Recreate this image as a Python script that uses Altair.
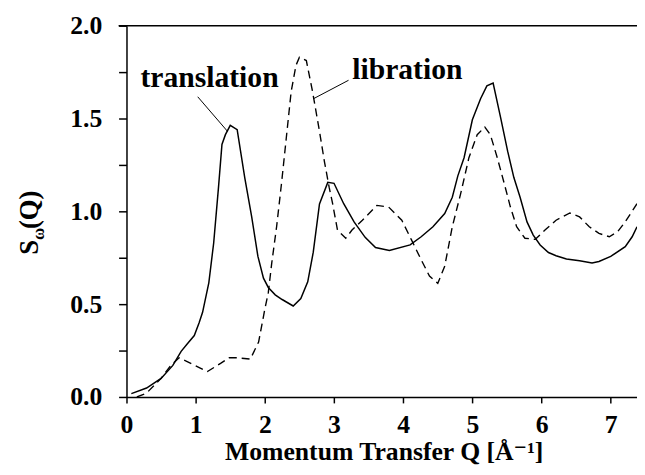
import altair as alt
import pandas as pd

# translation (solid)
trans_q = [0.07, 0.29, 0.50, 0.67, 0.79, 0.88, 0.98, 1.05, 1.10, 1.19, 1.26, 1.33, 1.38, 1.43,
           1.50, 1.60, 1.71, 1.81, 1.90, 1.98, 2.05, 2.15, 2.25, 2.41, 2.52, 2.62, 2.70, 2.79,
           2.91, 3.00, 3.14, 3.29, 3.45, 3.60, 3.80, 4.10, 4.26, 4.43, 4.60, 4.71, 4.79, 4.88,
           5.00, 5.12, 5.21, 5.30, 5.41, 5.51, 5.60, 5.69, 5.79, 5.88, 5.98, 6.10, 6.21, 6.36,
           6.55, 6.73, 6.83, 7.00, 7.21, 7.31, 7.38]
trans_s = [0.018, 0.048, 0.10, 0.17, 0.246, 0.287, 0.331, 0.40, 0.456, 0.615, 0.828, 1.129, 1.36, 1.413,
           1.463, 1.44, 1.18, 0.97, 0.757, 0.64, 0.59, 0.55, 0.525, 0.49, 0.53, 0.62, 0.78, 1.04,
           1.156, 1.151, 1.041, 0.943, 0.86, 0.805, 0.789, 0.819, 0.863, 0.917, 0.988, 1.076, 1.191, 1.289,
           1.493, 1.608, 1.676, 1.691, 1.502, 1.324, 1.182, 1.076, 0.943, 0.872, 0.819, 0.778, 0.761, 0.743,
           0.734, 0.722, 0.730, 0.757, 0.81, 0.863, 0.917]

# libration (dashed)
lib_q = [0.15, 0.29, 0.50, 0.64, 0.76, 0.98, 1.17, 1.36, 1.48, 1.60, 1.79, 1.91, 2.00, 2.05, 2.10,
         2.17, 2.24, 2.31, 2.38, 2.45, 2.50, 2.60, 2.69, 2.79, 2.86, 2.93, 2.98, 3.05, 3.17, 3.26,
         3.41, 3.62, 3.79, 3.98, 4.12, 4.26, 4.38, 4.50, 4.60, 4.71, 4.83, 4.95, 5.07, 5.18, 5.26,
         5.36, 5.45, 5.55, 5.64, 5.76, 5.91, 6.05, 6.21, 6.41, 6.55, 6.69, 6.83, 6.98, 7.10, 7.21, 7.38]
lib_s = [0.0, 0.021, 0.10, 0.17, 0.211, 0.172, 0.137, 0.181, 0.211, 0.211, 0.204, 0.296, 0.473, 0.562, 0.722,
         0.917, 1.147, 1.395, 1.644, 1.786, 1.83, 1.812, 1.644, 1.431, 1.271, 1.129, 1.041, 0.899, 0.855, 0.899,
         0.952, 1.032, 1.023, 0.952, 0.846, 0.739, 0.651, 0.612, 0.704, 0.917, 1.094, 1.289, 1.413, 1.454, 1.413,
         1.289, 1.165, 1.023, 0.917, 0.855, 0.849, 0.899, 0.952, 0.991, 0.970, 0.917, 0.881, 0.863, 0.890, 0.943, 1.041]

label_text = ["translation", "libration"]
label_q = [1.20, 4.06]
label_s = [1.67, 1.711]

ptr_q = [1.03, 3.21]
ptr_s = [1.617, 1.706]
ptr_q2 = [1.46, 2.71]
ptr_s2 = [1.431, 1.608]

x_ticks = [i * 0.5 for i in range(15)]
y_ticks = [i * 0.25 for i in range(9)]

W, H = 517, 376
FONT = "'Liberation Serif', 'Times New Roman', Times, 'DejaVu Serif', serif"

trans_df = pd.DataFrame({"q": trans_q, "s": trans_s})
lib_df = pd.DataFrame({"q": lib_q, "s": lib_s})
lab_df = pd.DataFrame({"t": label_text, "q": label_q, "s": label_s})
ptr_df = pd.DataFrame({"q": ptr_q, "s": ptr_s, "q2": ptr_q2, "s2": ptr_s2})
one = pd.DataFrame({"a": [0]})

xs = alt.Scale(domain=[0, 7.38], nice=False, zero=False)
ys = alt.Scale(domain=[0, 2.0], nice=False)

x_axis = alt.Axis(values=x_ticks, labelExpr="datum.value % 1 == 0 ? datum.value : ''",
                  title=None, tickSize=6, labelPadding=9, grid=False, labelFlush=False,
                  labelOverlap=False)
y_axis = alt.Axis(values=y_ticks, labelExpr="datum.value % 0.5 == 0 ? format(datum.value, '.1f') : ''",
                  title=None, tickSize=8, labelPadding=17, grid=False, labelFlush=False,
                  labelOverlap=False)

trans = alt.Chart(trans_df).mark_line(color="black", strokeWidth=1.5, clip=True).encode(
    x=alt.X("q:Q", scale=xs, axis=x_axis),
    y=alt.Y("s:Q", scale=ys, axis=y_axis),
)
lib = alt.Chart(lib_df).mark_line(color="black", strokeWidth=1.4, strokeDash=[8, 5], clip=True).encode(
    x=alt.X("q:Q", scale=xs),
    y=alt.Y("s:Q", scale=ys),
)
labels = alt.Chart(lab_df).mark_text(font=FONT, fontWeight="bold", fontSize=30, align="center",
                                     baseline="alphabetic", color="black").encode(
    x=alt.X("q:Q", scale=xs), y=alt.Y("s:Q", scale=ys), text="t:N")
ptrs = alt.Chart(ptr_df).mark_rule(color="black", strokeWidth=1).encode(
    x=alt.X("q:Q", scale=xs), y=alt.Y("s:Q", scale=ys), x2="q2:Q", y2="s2:Q")

top_line = alt.Chart(one).mark_rule(color="black", strokeWidth=1.5).encode(
    x=alt.value(-8), x2=alt.value(W), y=alt.value(0))

xtitle = alt.Chart(one).mark_text(font=FONT, fontWeight="bold", fontSize=26, align="center",
                                  baseline="alphabetic", color="black").encode(
    x=alt.value(261), y=alt.value(440), text=alt.value("Momentum Transfer Q [Å⁻¹]"))

yt_S = alt.Chart(one).mark_text(font=FONT, fontWeight="bold", fontSize=27, align="left",
                                baseline="alphabetic", angle=270, color="black").encode(
    x=alt.value(-90), y=alt.value(232), text=alt.value("S"))
yt_w = alt.Chart(one).mark_text(font=FONT, fontWeight="bold", fontSize=17, align="left",
                                baseline="alphabetic", angle=270, color="black").encode(
    x=alt.value(-84), y=alt.value(217), text=alt.value("ω"))
yt_Q = alt.Chart(one).mark_text(font=FONT, fontWeight="bold", fontSize=27, align="left",
                                baseline="alphabetic", angle=270, color="black").encode(
    x=alt.value(-90), y=alt.value(206), text=alt.value("(Q)"))

chart = alt.layer(trans, lib, ptrs, labels, top_line, xtitle, yt_S, yt_w, yt_Q).properties(
    width=W, height=H,
    autosize=alt.AutoSizeParams(type="none"),
    padding={"left": 120, "top": 15, "right": 0, "bottom": 68},
).configure_view(stroke=None).configure_axis(
    domainColor="black", tickColor="black", domainWidth=1.5, tickWidth=1.5,
    labelFont=FONT, labelFontWeight="bold", labelFontSize=26, labelColor="black",
)

chart.save("out.html", embed_options={"renderer": "svg", "actions": False})
